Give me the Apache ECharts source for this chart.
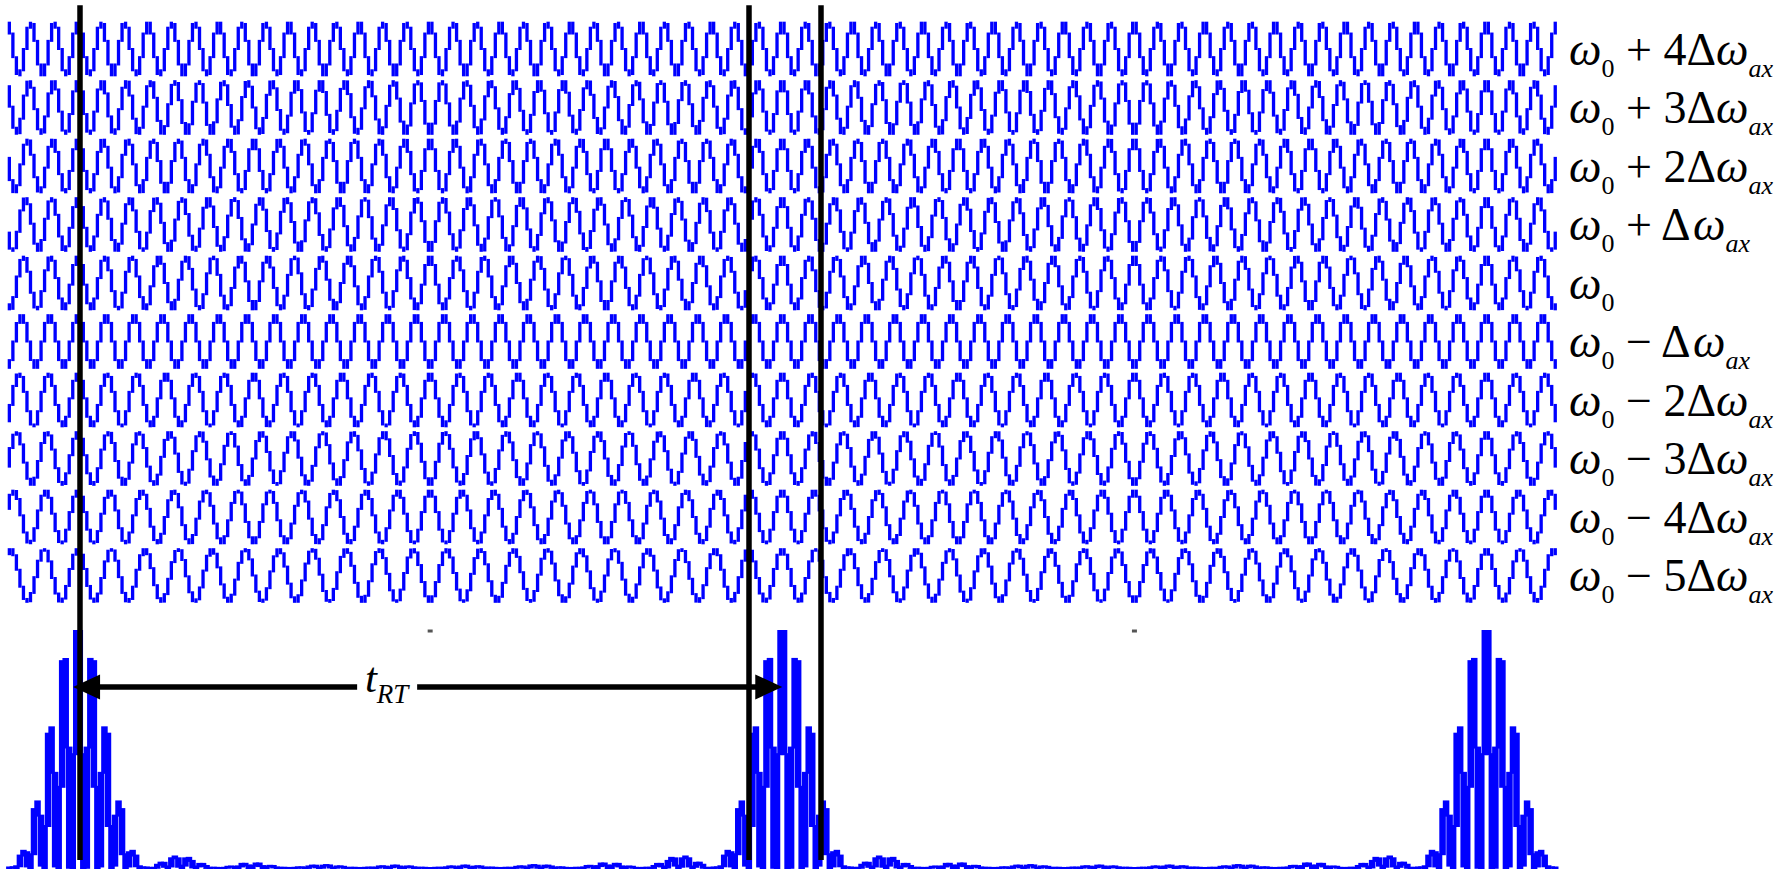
<!DOCTYPE html>
<html><head><meta charset="utf-8">
<script src="https://cdn.jsdelivr.net/npm/echarts@6/dist/echarts.min.js"></script>
<style>
html,body{margin:0;padding:0;background:#fff}#c{width:1781px;height:869px}
.pre{position:absolute;left:0;top:0;font-family:"Liberation Serif";font-size:46px;color:rgba(0,0,0,0);pointer-events:none}
</style>
</head><body>
<span class="pre">ω0 + 4Δω ax</span><span class="pre" style="font-style:italic">ω ax t RT</span>
<div id="c"></div>
<script>
// ---- data ----
const modeOffsets = [4, 3, 2, 1, 0, -1, -2, -3, -4, -5];            // row labels ω0 + nΔω_ax (top to bottom)
const cyclesPerRoundTrip = [30, 29, 28, 27, 26, 25, 24, 23, 22, 21]; // oscillations of each row within one t_RT
const timeRange = [-0.1, 2.1];                                      // visible span, in round-trip times
const columnsPerRoundTrip = 200;                                    // stair-step sampling of the traces
const markerTimes = [0.003, 0.952, 1.054];                          // vertical black lines
const tickTimes = [0.5, 1.5];                                       // small tick dashes
const arrowLabel = ['t', 'RT'];

// ---- layout (not data) ----
const BLUE = '#0000ff';
const AMP = 0.45;
const SUB = 24;
const N = modeOffsets.length;
const dt = 1 / columnsPerRoundTrip;
const nCols = Math.round((timeRange[1] - timeRange[0]) * columnsPerRoundTrip);
const FAMILY = 'Liberation Serif';

function rowSeriesData(i) {
  const level = N - 1 - i, m = cyclesPerRoundTrip[i], out = [];
  for (let k = 0; k < nCols; k++) {
    const tL = timeRange[0] + k * dt, tR = tL + dt;
    let mn = Infinity, mx = -Infinity;
    for (let j = 0; j <= SUB; j++) {
      const t = tL + j * dt / SUB;
      const v = level + AMP * Math.cos(2 * Math.PI * m * t);
      if (v < mn) mn = v; if (v > mx) mx = v;
    }
    out.push([tL, tR, mn, mx]);
  }
  return out;
}
// intensity of the sum of the ten modes drawn above
function pulseData() {
  const out = [];
  for (let k = 0; k < nCols; k++) {
    const tL = timeRange[0] + k * dt, tR = tL + dt;
    let mn = Infinity, mx = -Infinity;
    for (let j = 0; j <= SUB; j++) {
      const t = tL + j * dt / SUB;
      let s = 0;
      for (const m of cyclesPerRoundTrip) s += Math.cos(2 * Math.PI * m * t);
      const v = s * s / (N * N);
      if (v < mn) mn = v; if (v > mx) mx = v;
    }
    out.push([tL, tR, mn, mx]);
  }
  return out;
}
function makeRender(wx, pad) {
  return function (params, api) {
    const a = api.coord([api.value(0), api.value(3)]);
    const b = api.coord([api.value(1), api.value(2)]);
    const w = (b[0] - a[0]) + wx;
    const cx = (a[0] + b[0]) / 2;
    return { type: 'rect', shape: { x: cx - w / 2, y: a[1] - pad, width: w, height: (b[1] - a[1]) + 2 * pad },
             style: { fill: BLUE } };
  };
}

const series = [];
for (let i = 0; i < N; i++) {
  series.push({ type: 'custom', xAxisIndex: 0, yAxisIndex: 0, renderItem: makeRender(-0.2, 1.0),
    encode: { x: [0, 1], y: [2, 3] }, data: rowSeriesData(i), z: 2, silent: true });
}
series.push({ type: 'custom', xAxisIndex: 0, yAxisIndex: 1, renderItem: makeRender(3.0, 1.0),
  encode: { x: [0, 1], y: [2, 3] }, data: pulseData(), z: 2, silent: true });

const arrowY = 0.764;
series.push({
  type: 'line', xAxisIndex: 0, yAxisIndex: 1, data: [], z: 10, silent: true,
  markLine: {
    silent: true, animation: false, symbol: ['none', 'none'],
    label: { show: false },
    lineStyle: { color: '#000', width: 5.5, type: 'solid' },
    data: markerTimes.map(t => [{ coord: [t, 0.034] }, { coord: [t, 3.641] }]).concat([
      [{ coord: [0.0121, arrowY], symbol: 'triangle', symbolSize: [25, 27] }, { coord: [0.3963, arrowY], symbol: 'none' }],
      [{ coord: [0.4815, arrowY], symbol: 'none' }, { coord: [0.9808, arrowY], symbol: 'triangle', symbolSize: [25, 27] }]
    ])
  },
  markPoint: {
    silent: true, animation: false,
    data: tickTimes.map(t => ({ coord: [t, 1.0], symbol: 'rect', symbolSize: [5, 3], itemStyle: { color: '#555' }, label: { show: false } }))
  }
});

const chart = echarts.init(document.getElementById('c'), null, { renderer: 'svg' });
chart.setOption({
  animation: false,
  backgroundColor: '#ffffff',
  grid: { left: 7.6, right: 224, top: 5.125, bottom: 1, containLabel: false, outerBoundsMode: 'none' },
  xAxis: { type: 'value', min: timeRange[0], max: timeRange[1], show: false },
  yAxis: [
    { type: 'value', min: -5, max: 9.75, interval: 1, show: false },
    { type: 'value', min: 0, max: 3.641, show: false }
  ],
  series: series
});

// ---- math-style labels built from plain text pieces ----
const mctx = document.createElement('canvas').getContext('2d');
function fontStr(p) { return (p.italic ? 'italic ' : 'normal ') + 'normal ' + p.size + 'px ' + FAMILY; }
function measure(p) { mctx.font = fontStr(p); return mctx.measureText(p.t).width; }
const MIDK = 0.34;
let pass = 0;
function piecesToGraphic(pieces, x0, baseline, idBase) {
  const out = [];
  let x = x0;
  const fill = (pass % 2) ? '#000001' : '#000000';
  pieces.forEach((p, j) => {
    const bl = baseline + (p.drop || 0);
    out.push({ type: 'text', id: idBase + '_' + j, silent: true, z: 100, x: x, y: bl - MIDK * p.size,
      style: { text: p.t, fontFamily: FAMILY, fontSize: p.size, fontStyle: p.italic ? 'italic' : 'normal',
               fill: fill, verticalAlign: 'middle' } });
    x += measure(p);
  });
  return out;
}
function modePieces(n) {
  const big = 46, small = 26, drop = 12;
  const ps = [{ t: 'ω', size: big, italic: true }, { t: '0', size: small, drop: drop }];
  if (n !== 0) {
    const k = Math.abs(n);
    ps.push({ t: ' ' + (n > 0 ? '+' : '−') + ' ' + (k === 1 ? '' : k) + 'Δ', size: big });
    ps.push({ t: 'ω', size: big, italic: true });
    ps.push({ t: 'ax', size: small, italic: true, drop: drop });
  }
  return ps;
}
function buildLabels() {
  const graphics = [];
  for (let i = 0; i < N; i++) {
    const p = chart.convertToPixel({ xAxisIndex: 0, yAxisIndex: 0 }, [timeRange[1], N - 1 - i]);
    graphics.push(...piecesToGraphic(modePieces(modeOffsets[i]), p[0] + 12, p[1] + 16, 'm' + i));
  }
  const pieces = [{ t: arrowLabel[0], size: 43, italic: true }, { t: arrowLabel[1], size: 27, italic: true, drop: 11 }];
  const total = pieces.reduce((s, p) => s + measure(p), 0);
  const c = chart.convertToPixel({ xAxisIndex: 0, yAxisIndex: 1 }, [0.4382, arrowY]);
  graphics.push(...piecesToGraphic(pieces, c[0] - total / 2, c[1] + 5, 'trt'));
  return graphics;
}
chart.setOption({ graphic: buildLabels() });

function redraw() {
  pass++;
  chart.setOption({ graphic: buildLabels() });
}
if (document.fonts && document.fonts.load) {
  const specs = ['normal 46px "Liberation Serif"', 'italic 46px "Liberation Serif"'];
  Promise.all(specs.map(s => document.fonts.load(s, 'ω0+4Δ−ax tRT'))).then(redraw, redraw);
  document.fonts.ready.then(redraw);
}
requestAnimationFrame(() => requestAnimationFrame(redraw));
setTimeout(redraw, 150);
setTimeout(redraw, 500);
</script></body></html>
